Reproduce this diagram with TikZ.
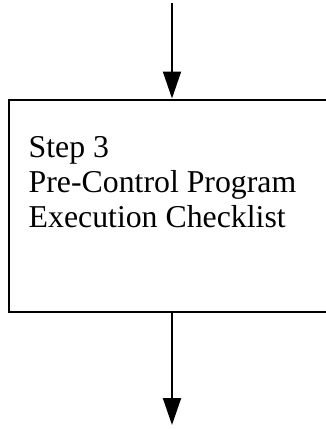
\documentclass[tikz,border=0pt]{standalone}
\usepackage{fontspec}
\setmainfont{Liberation Serif}
\usetikzlibrary{arrows.meta,positioning,calc}
\begin{document}
\begin{tikzpicture}[x=1pt,y=1pt,
  flowbox/.style={draw, line width=2pt, rectangle, inner sep=0pt},
  flowarrow/.style={line width=2pt, -{Triangle[length=27pt,width=18pt]}},
  steptext/.style={anchor=base west, align=left, inner sep=0pt, font=\fontsize{31.8}{35}\selectfont}]
\useasboundingbox (0,0) rectangle (326,-429);
\node[flowbox, minimum width=324pt, minimum height=212pt, anchor=north west] (box) at (8,-98.5) {};
\node[steptext] (label) at (28.5,-227) {Step 3\\Pre-Control Program\\Execution Checklist};
\coordinate (topstart) at (172,-3);
\coordinate (botend) at (172,-425);
\draw[flowarrow] (topstart) -- (topstart |- box.north);
\draw[flowarrow] (botend |- box.south) -- (botend);
\end{tikzpicture}
\end{document}
